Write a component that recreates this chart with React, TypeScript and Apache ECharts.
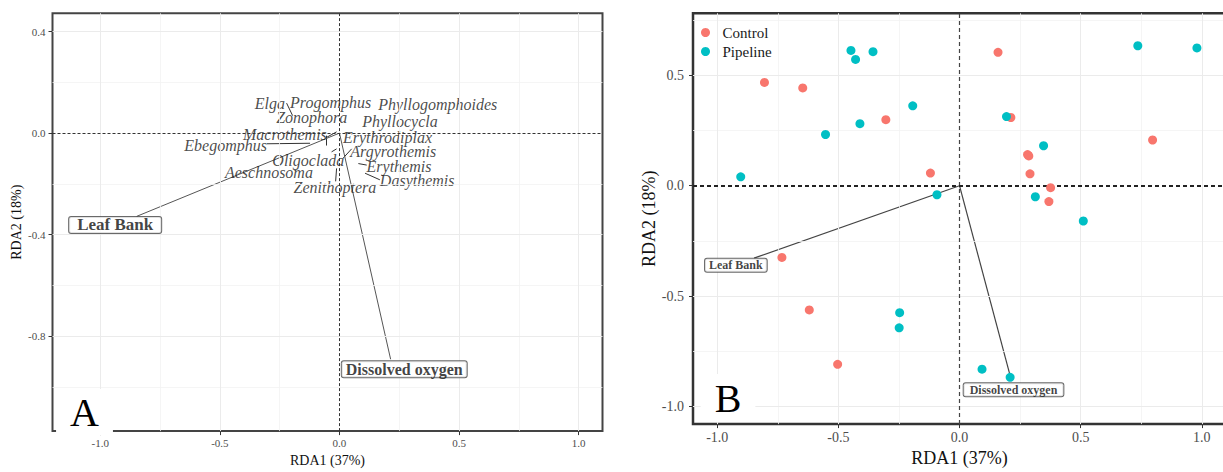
import React, { useEffect, useRef } from "react";
import * as echarts from "echarts";

// ---------- Panel A : species scores (label positions) ----------
const speciesNames = [
  "Elga", "Progomphus", "Phyllogomphoides", "Zonophora", "Phyllocycla",
  "Macrothemis", "Erythrodiplax", "Ebegomphus", "Argyrothemis", "Oligoclada",
  "Erythemis", "Aeschnosoma", "Dasythemis", "Zenithoptera",
];
const speciesLabelX = [-0.291, -0.037, 0.411, -0.116, 0.253, -0.228, 0.201, -0.476, 0.225, -0.130, 0.249, -0.295, 0.325, -0.019];
const speciesLabelY = [0.116, 0.121, 0.112, 0.061, 0.044, -0.004, -0.017, -0.049, -0.074, -0.107, -0.132, -0.154, -0.186, -0.216];
// leader segments [x1, y1, x2, y2]
const leaderSegments = [
  [-0.221, 0.118, -0.196, 0.069],
  [-0.304, -0.042, -0.123, -0.040],
  [-0.054, -0.010, -0.054, -0.049],
  [-0.054, -0.017, -0.012, 0.005],
  [0.016, -0.098, 0.051, -0.062],
  [-0.033, -0.074, -0.012, -0.062],
  [0.079, -0.120, 0.114, -0.126],
  [0.107, -0.158, 0.169, -0.184],
  [-0.012, -0.139, -0.016, -0.190],
];

// ---------- environmental vectors ----------
const envNames = ["Leaf Bank", "Dissolved oxygen"];
const envArrowAX = [-0.848, 0.214];
const envArrowAY = [-0.328, -0.891];
const envLabelAX = [-0.938, 0.271];
const envLabelAY = [-0.362, -0.930];
const envArrowBX = [-0.848, 0.209];
const envArrowBY = [-0.328, -0.860];
const envLabelBX = [-0.923, 0.223];
const envLabelBY = [-0.360, -0.924];

// ---------- Panel B : site scores ----------
const controlX = [0.159, -0.805, -0.647, -0.304, 0.212, 0.797, 0.281, 0.286, -0.120, 0.291, 0.376, 0.369, -0.733, -0.620, -0.503];
const controlY = [0.604, 0.468, 0.443, 0.299, 0.309, 0.207, 0.141, 0.135, 0.057, 0.054, -0.009, -0.072, -0.325, -0.563, -0.809];
const pipelineX = [-0.448, -0.357, -0.429, 0.736, 0.980, -0.193, 0.194, -0.411, -0.553, 0.347, -0.903, -0.093, 0.313, 0.511, -0.247, -0.249, 0.093, 0.209];
const pipelineY = [0.613, 0.607, 0.572, 0.634, 0.624, 0.362, 0.313, 0.281, 0.232, 0.181, 0.040, -0.041, -0.050, -0.160, -0.575, -0.644, -0.831, -0.868];

// ---------- ticks ----------
const xTicks = [-1, -0.5, 0, 0.5, 1];
const xMinor = [-0.75, -0.25, 0.25, 0.75];
const yTicksA = [0.4, 0, -0.4, -0.8];
const yMinorA = [0.2, -0.2, -0.6, -1.0];
const yTicksB = [0.5, 0, -0.5, -1.0];
const yMinorB = [0.75, 0.25, -0.25, -0.75];

const SERIF = "'Liberation Serif', 'Times New Roman', serif";

function gridLineSeries(xi: number, xs: number[], xm: number[], ys: number[], ym: number[]) {
  const major = { color: "#ebebeb", width: 1, type: "solid" };
  const minor = { color: "#f2f2f2", width: 0.8, type: "solid" };
  return {
    type: "scatter",
    xAxisIndex: xi,
    yAxisIndex: xi,
    data: [],
    silent: true,
    z: 1,
    markLine: {
      silent: true,
      symbol: ["none", "none"],
      label: { show: false },
      animation: false,
      data: [
        ...xm.map((v) => ({ xAxis: v, lineStyle: minor })),
        ...ym.map((v) => ({ yAxis: v, lineStyle: minor })),
        ...xs.filter((v) => v !== 0).map((v) => ({ xAxis: v, lineStyle: major })),
        ...ys.filter((v) => v !== 0).map((v) => ({ yAxis: v, lineStyle: major })),
      ],
    },
  };
}

function zeroLineSeries(xi: number, vStyle: any, hStyle: any) {
  return {
    type: "scatter",
    xAxisIndex: xi,
    yAxisIndex: xi,
    data: [],
    silent: true,
    z: 2,
    markLine: {
      silent: true,
      symbol: ["none", "none"],
      label: { show: false },
      animation: false,
      data: [
        { xAxis: 0, lineStyle: vStyle },
        { yAxis: 0, lineStyle: hStyle },
      ],
    },
  };
}

export default function App() {
  const ref = useRef<HTMLDivElement>(null);

  useEffect(() => {
    if (!ref.current) return;
    const chart = echarts.init(ref.current, undefined, { renderer: "svg" });

    const tickFmt = (v: number) => v.toFixed(1);

    const xAxisBase = (gi: number, min: number, max: number, fs: number, nameFs: number, gap: number, lblMargin: number) => ({
      type: "value",
      gridIndex: gi,
      min,
      max,
      name: "RDA1 (37%)",
      nameLocation: "middle",
      nameGap: gap,
      nameTextStyle: { fontFamily: SERIF, fontSize: nameFs, color: "#111" },
      axisLine: { show: false, onZero: false },
      axisTick: { show: true, length: 4, customValues: xTicks, lineStyle: { color: "#333", width: 1 } },
      axisLabel: { customValues: xTicks, formatter: tickFmt, fontFamily: SERIF, fontSize: fs, color: "#4d4d4d", margin: lblMargin },
      splitLine: { show: false },
    });
    const yAxisBase = (gi: number, min: number, max: number, ticks: number[], fs: number, nameFs: number, gap: number, lblMargin: number) => ({
      type: "value",
      gridIndex: gi,
      min,
      max,
      name: "RDA2 (18%)",
      nameLocation: "middle",
      nameRotate: 90,
      nameGap: gap,
      nameTextStyle: { fontFamily: SERIF, fontSize: nameFs, color: "#111" },
      axisLine: { show: false, onZero: false },
      axisTick: { show: true, length: 4, customValues: ticks, lineStyle: { color: "#333", width: 1 } },
      axisLabel: { customValues: ticks, formatter: tickFmt, fontFamily: SERIF, fontSize: fs, color: "#4d4d4d", margin: lblMargin },
      splitLine: { show: false },
    });

    const envLabelStyle = (fs: number, pad: number[], lh: number) => ({
      show: true,
      position: "inside",
      formatter: "{b}",
      fontFamily: SERIF,
      fontWeight: "bold",
      fontSize: fs,
      lineHeight: lh,
      color: "#111",
      backgroundColor: "#fff",
      borderColor: "#444",
      borderWidth: 1,
      borderRadius: 2,
      padding: pad,
    });

    const option: any = {
      animation: false,
      backgroundColor: "#fff",
      textStyle: { fontFamily: SERIF },
      grid: [
        { left: 52.5, top: 13.3, width: 550, height: 426.7, show: true, borderColor: "#444", borderWidth: 2, backgroundColor: "#fff" },
        { left: 693, top: 13.3, width: 533, height: 421.7, show: true, borderColor: "#333", borderWidth: 2.5, backgroundColor: "#fff" },
      ],
      xAxis: [
        xAxisBase(0, -1.2, 1.1, 11, 14, 17, 6),
        xAxisBase(1, -1.1, 1.1, 14, 18, 18, 6),
      ],
      yAxis: [
        yAxisBase(0, -1.174, 0.472, yTicksA, 11, 14, 29, 7),
        yAxisBase(1, -1.08, 0.781, yTicksB, 14, 18, 34, 9),
      ],
      legend: {
        data: ["Control", "Pipeline"],
        orient: "vertical",
        left: 697,
        top: 15,
        padding: [9, 22, 8, 4],
        itemWidth: 24,
        itemHeight: 9,
        itemGap: 2,
        icon: "circle",
        backgroundColor: "#fff",
        textStyle: { fontFamily: SERIF, fontSize: 15, color: "#1a1a1a", lineHeight: 17 },
      },
      graphic: [
        {
          type: "text",
          x: 84.5,
          y: 412,
          z: 50,
          style: { text: "A", fontFamily: SERIF, fontSize: 40, fill: "#000", backgroundColor: "#fff", padding: [3, 14, 3, 14], align: "center", verticalAlign: "middle" },
        },
        {
          type: "text",
          x: 728,
          y: 398,
          z: 50,
          style: { text: "B", fontFamily: SERIF, fontSize: 40, fill: "#000", backgroundColor: "#fff", padding: [4, 14, 4, 14], align: "center", verticalAlign: "middle" },
        },
      ],
      series: [
        gridLineSeries(0, xTicks, xMinor, yTicksA, yMinorA),
        gridLineSeries(1, xTicks, xMinor, yTicksB, yMinorB),
        zeroLineSeries(0, { color: "#333", width: 1, type: [3, 2] }, { color: "#333", width: 1, type: [3, 2] }),
        zeroLineSeries(1, { color: "#444", width: 1.2, type: [4, 3] }, { color: "#222", width: 1.8, type: [4, 3] }),
        // Panel A leader lines
        {
          type: "lines",
          coordinateSystem: "cartesian2d",
          xAxisIndex: 0,
          yAxisIndex: 0,
          z: 3,
          silent: true,
          lineStyle: { color: "#333", width: 1, opacity: 1 },
          data: leaderSegments.map((s) => ({ coords: [[s[0], s[1]], [s[2], s[3]]] })),
        },
        // Panel A env vectors
        {
          type: "lines",
          coordinateSystem: "cartesian2d",
          xAxisIndex: 0,
          yAxisIndex: 0,
          z: 3,
          silent: true,
          lineStyle: { color: "#555", width: 1, opacity: 1 },
          data: envNames.map((n, i) => ({ coords: [[0, 0], [envArrowAX[i], envArrowAY[i]]] })),
        },
        // Panel B env vectors
        {
          type: "lines",
          coordinateSystem: "cartesian2d",
          xAxisIndex: 1,
          yAxisIndex: 1,
          z: 3,
          silent: true,
          lineStyle: { color: "#444", width: 1.2, opacity: 1 },
          data: envNames.map((n, i) => ({ coords: [[0, 0], [envArrowBX[i], envArrowBY[i]]] })),
        },
        // Panel A species labels
        {
          type: "scatter",
          xAxisIndex: 0,
          yAxisIndex: 0,
          z: 4,
          symbolSize: 0,
          silent: true,
          label: {
            show: true,
            position: "inside",
            formatter: "{b}",
            fontFamily: SERIF,
            fontStyle: "italic",
            fontSize: 16,
            color: "#1a1a1a",
          },
          data: speciesNames.map((n, i) => ({ name: n, value: [speciesLabelX[i], speciesLabelY[i]] })),
        },
        // Panel A env labels
        {
          type: "scatter",
          xAxisIndex: 0,
          yAxisIndex: 0,
          z: 5,
          symbolSize: 0,
          silent: true,
          data: envNames.map((n, i) => ({
            name: n,
            value: [envLabelAX[i], envLabelAY[i]],
            label: i === 0 ? envLabelStyle(17, [0, 8, 0, 8], 16) : envLabelStyle(16, [0, 4, 0, 4], 16),
          })),
        },
        // Panel B env labels
        {
          type: "scatter",
          xAxisIndex: 1,
          yAxisIndex: 1,
          z: 5,
          symbolSize: 0,
          silent: true,
          data: envNames.map((n, i) => ({
            name: n,
            value: [envLabelBX[i], envLabelBY[i]],
            label: i === 0 ? envLabelStyle(12, [0, 4, 0, 4], 13) : envLabelStyle(12, [0, 6, 0, 6], 13),
          })),
        },
        // Panel B points
        {
          name: "Control",
          type: "scatter",
          xAxisIndex: 1,
          yAxisIndex: 1,
          z: 6,
          symbolSize: 9,
          itemStyle: { color: "#F8766D", opacity: 1 },
          data: controlX.map((x, i) => [x, controlY[i]]),
        },
        {
          name: "Pipeline",
          type: "scatter",
          xAxisIndex: 1,
          yAxisIndex: 1,
          z: 6,
          symbolSize: 9,
          itemStyle: { color: "#00BFC4", opacity: 1 },
          data: pipelineX.map((x, i) => [x, pipelineY[i]]),
        },
      ],
    };

    chart.setOption(option);
    return () => chart.dispose();
  }, []);

  return (
    <div style={{ position: "fixed", left: 0, top: 0, width: 1223, height: 472, overflow: "hidden", background: "#fff" }}>
      <div ref={ref} style={{ width: 1240, height: 472 }} />
    </div>
  );
}
